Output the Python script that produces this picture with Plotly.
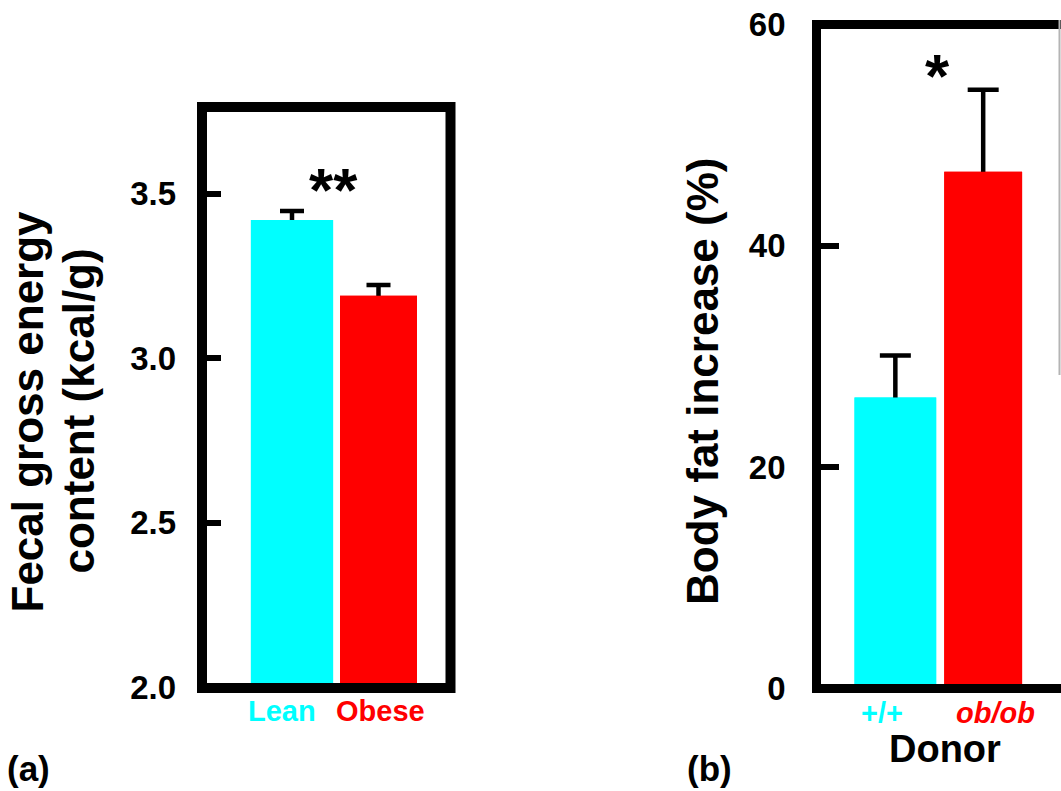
import plotly.graph_objects as go

# ---------------- data ----------------
cats_a = ["Lean", "Obese"]
vals_a = [3.42, 3.19]
err_a = [0.028, 0.033]

cats_b = ["+/+", "ob/ob"]
vals_b = [26.3, 46.7]
err_b = [3.8, 7.4]

ticks_a = [2.0, 2.5, 3.0, 3.5]
ticks_b = [0, 20, 40, 60]

colors = ["#00FFFF", "#FF0000"]

W, H = 1061, 791
FONT = "Liberation Sans, Arial, Helvetica, sans-serif"


def px(x):
    return x / W


def py(y):
    return 1 - y / H


fig = go.Figure()

xa = list(range(len(cats_a)))
xb = list(range(len(cats_b)))
base_a = 2.0
wid_a = [0.95, 0.89]
wid_b = [0.93, 0.886]

# bars carrying (symmetric) error bars; lower half is hidden by the overlaid copy
fig.add_trace(go.Bar(
    x=xa, y=[v - base_a for v in vals_a], base=base_a, width=wid_a,
    marker=dict(color=colors, line=dict(width=0)),
    error_y=dict(type="data", array=err_a, color="black", thickness=4.5, width=12),
    xaxis="x", yaxis="y", showlegend=False, hoverinfo="skip",
))
fig.add_trace(go.Bar(
    x=xa, y=[v - base_a for v in vals_a], base=base_a, width=wid_a,
    marker=dict(color=colors, line=dict(width=0)),
    xaxis="x", yaxis="y", showlegend=False,
))
fig.add_trace(go.Bar(
    x=xb, y=vals_b, width=wid_b,
    marker=dict(color=colors, line=dict(width=0)),
    error_y=dict(type="data", array=err_b, color="black", thickness=4.5, width=15.5),
    xaxis="x2", yaxis="y2", showlegend=False, hoverinfo="skip",
))
fig.add_trace(go.Bar(
    x=xb, y=vals_b, width=wid_b,
    marker=dict(color=colors, line=dict(width=0)),
    xaxis="x2", yaxis="y2", showlegend=False,
))

tickfont = dict(family=FONT, size=33, color="black", weight="bold")

fig.update_layout(
    width=W, height=H,
    margin=dict(l=0, r=0, t=0, b=0, pad=0, autoexpand=False),
    barmode="overlay",
    paper_bgcolor="white", plot_bgcolor="white",
    xaxis=dict(domain=[px(202), px(450)], range=[-1.0405, 1.8266], anchor="y",
               showticklabels=False, showgrid=False, zeroline=False, showline=False,
               ticks="", automargin=False),
    yaxis=dict(domain=[py(688), py(107)], range=[1.997, 3.764], anchor="x",
               tickvals=ticks_a, ticktext=[f"{t:.1f}" for t in ticks_a],
               ticks="inside", ticklen=19, tickwidth=6, tickcolor="black",
               tickfont=tickfont, ticklabelstandoff=25, automargin=False,
               showgrid=False, zeroline=False, showline=False),
    xaxis2=dict(domain=[px(816.5), 1.0], range=[-0.8977, 1.886], anchor="y2",
                showticklabels=False, showgrid=False, zeroline=False, showline=False,
                ticks="", automargin=False),
    yaxis2=dict(domain=[py(688.5), py(24.5)], range=[0, 60], anchor="x2",
                tickvals=ticks_b, ticktext=[str(t) for t in ticks_b],
                ticks="inside", ticklen=22, tickwidth=6, tickcolor="black",
                tickfont=tickfont, ticklabelstandoff=30, automargin=False,
                showgrid=False, zeroline=False, showline=False),
)

# frames
fig.add_shape(type="rect", xref="paper", yref="paper",
              x0=px(202), x1=px(450.5), y0=py(688), y1=py(107),
              line=dict(color="black", width=10), layer="above")
fig.add_shape(type="path", xref="paper", yref="paper",
              path=f"M {px(1075)},{py(24.5)} L {px(816.5)},{py(24.5)} L {px(816.5)},{py(688.5)} L {px(1075)},{py(688.5)}",
              line=dict(color="black", width=9), layer="above")
# remnant of neighbouring panel edge
fig.add_shape(type="line", xref="paper", yref="paper",
              x0=px(1059.5), x1=px(1059.5), y0=py(20), y1=py(375),
              line=dict(color="#b4b4b4", width=2))

ann = []
bold = dict(family=FONT, color="black", weight="bold")


def A(**kw):
    kw.setdefault("showarrow", False)
    kw.setdefault("xanchor", "center")
    kw.setdefault("yanchor", "middle")
    ann.append(kw)


# category labels
lab_a_off = [-0.116, 0.023]
for i, c in enumerate(cats_a):
    A(x=xa[i] + lab_a_off[i], xref="x", y=py(711), yref="paper", text=c,
      font=dict(family=FONT, size=29, color=colors[i], weight="bold"))
lab_b_off = [-0.153, 0.136]
lab_b_txt = ["+/+", "<i>ob/ob</i>"]
for i, c in enumerate(cats_b):
    A(x=xb[i] + lab_b_off[i], xref="x2", y=py(713), yref="paper", text=lab_b_txt[i],
      font=dict(family=FONT, size=29, color=colors[i], weight="bold"))

A(x=px(945), y=py(749), xref="paper", yref="paper", text="Donor", font=dict(size=38, **bold))

# axis titles
A(x=px(26.5), y=py(412), xref="paper", yref="paper", text="Fecal gross energy",
  textangle=-90, font=dict(size=44, **bold))
A(x=px(77.5), y=py(411), xref="paper", yref="paper", text="content (kcal/g)",
  textangle=-90, font=dict(size=44, **bold))
A(x=px(702), y=py(382), xref="paper", yref="paper", text="Body fat increase (%)",
  textangle=-90, font=dict(size=44, **bold))

# significance marks
A(x=0.474, xref="x", y=3.527, yref="y", text="**", yshift=-5, font=dict(size=62, **bold))
A(x=0.477, xref="x2", y=55.8, yref="y2", text="*", yshift=-5, font=dict(size=62, **bold))

# panel letters
A(x=px(5), y=py(768), xref="paper", yref="paper", text="(a)", xanchor="left",
  font=dict(size=35, **bold))
A(x=px(685), y=py(768), xref="paper", yref="paper", text="(b)", xanchor="left",
  font=dict(size=35, **bold))

fig.update_layout(annotations=ann)

fig.write_html("out.html")
